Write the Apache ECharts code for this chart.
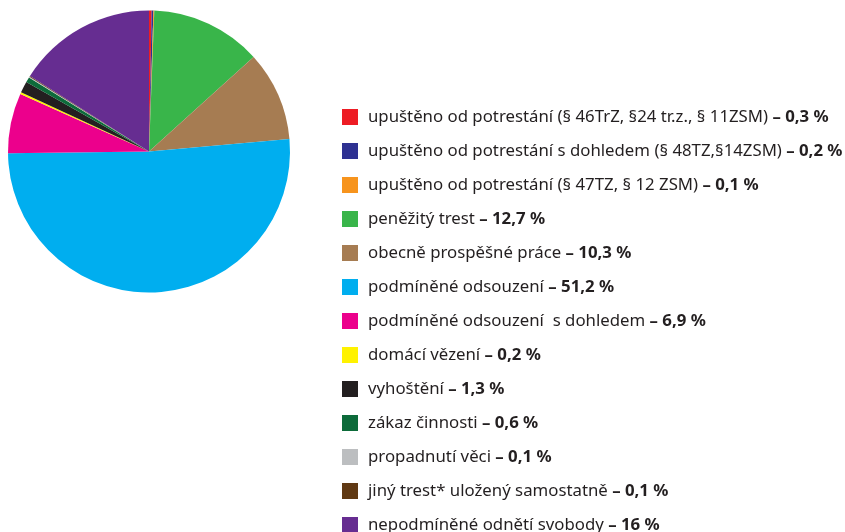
<!DOCTYPE html>
<html><head><meta charset="utf-8">
<script src="https://cdn.jsdelivr.net/npm/echarts@6/dist/echarts.min.js"></script>
<style>html,body{margin:0;padding:0;background:#fff}#c{width:845px;height:532px}</style>
</head><body><div id="c"></div>
<script>
const categories = [
  'upuštěno od potrestání (§ 46TrZ, §24 tr.z., § 11ZSM)',
  'upuštěno od potrestání s dohledem (§ 48TZ,§14ZSM)',
  'upuštěno od potrestání (§ 47TZ, § 12 ZSM)',
  'peněžitý trest',
  'obecně prospěšné práce',
  'podmíněné odsouzení',
  'podmíněné odsouzení  s dohledem',
  'domácí vězení',
  'vyhoštění',
  'zákaz činnosti',
  'propadnutí věci',
  'jiný trest* uložený samostatně',
  'nepodmíněné odnětí svobody'
];
const values = [0.3, 0.2, 0.1, 12.7, 10.3, 51.2, 6.9, 0.2, 1.3, 0.6, 0.1, 0.1, 16];
const colors = ['#ed1c24', '#2e3192', '#f7941d', '#39b54a', '#a67c52', '#00aeef', '#ec008c', '#fff200', '#231f20', '#0d6b3a', '#bcbec0', '#603913', '#662d91'];

const valueByName = {};
categories.forEach((c, i) => valueByName[c] = values[i]);
const fmt = v => String(v).replace('.', ',') + ' %';

const chart = echarts.init(document.getElementById('c'), null, {renderer: 'canvas'});
chart.setOption({
  animation: false,
  color: colors,
  legend: {
    orient: 'vertical',
    left: 337,
    top: 103,
    height: 700,
    itemWidth: 16,
    itemHeight: 16,
    itemGap: 16,
    icon: 'rect',
    selectedMode: false,
    data: categories,
    formatter: name => name + ' {b|– ' + fmt(valueByName[name]) + '}',
    textStyle: {
      fontFamily: 'Noto Sans',
      fontSize: 16.8,
      color: '#231f20',
      lineHeight: 18,
      padding: [0, 0, 0, 5],
      rich: {
        b: {fontFamily: 'Noto Sans', fontSize: 16.8, fontWeight: 'bold', color: '#231f20', lineHeight: 18}
      }
    }
  },
  series: [{
    type: 'pie',
    center: [149, 151.5],
    radius: 141,
    startAngle: 90,
    clockwise: true,
    label: {show: false},
    labelLine: {show: false},
    emphasis: {disabled: true},
    itemStyle: {borderWidth: 0},
    data: categories.map((c, i) => ({name: c, value: values[i]}))
  }]
});
</script></body></html>
